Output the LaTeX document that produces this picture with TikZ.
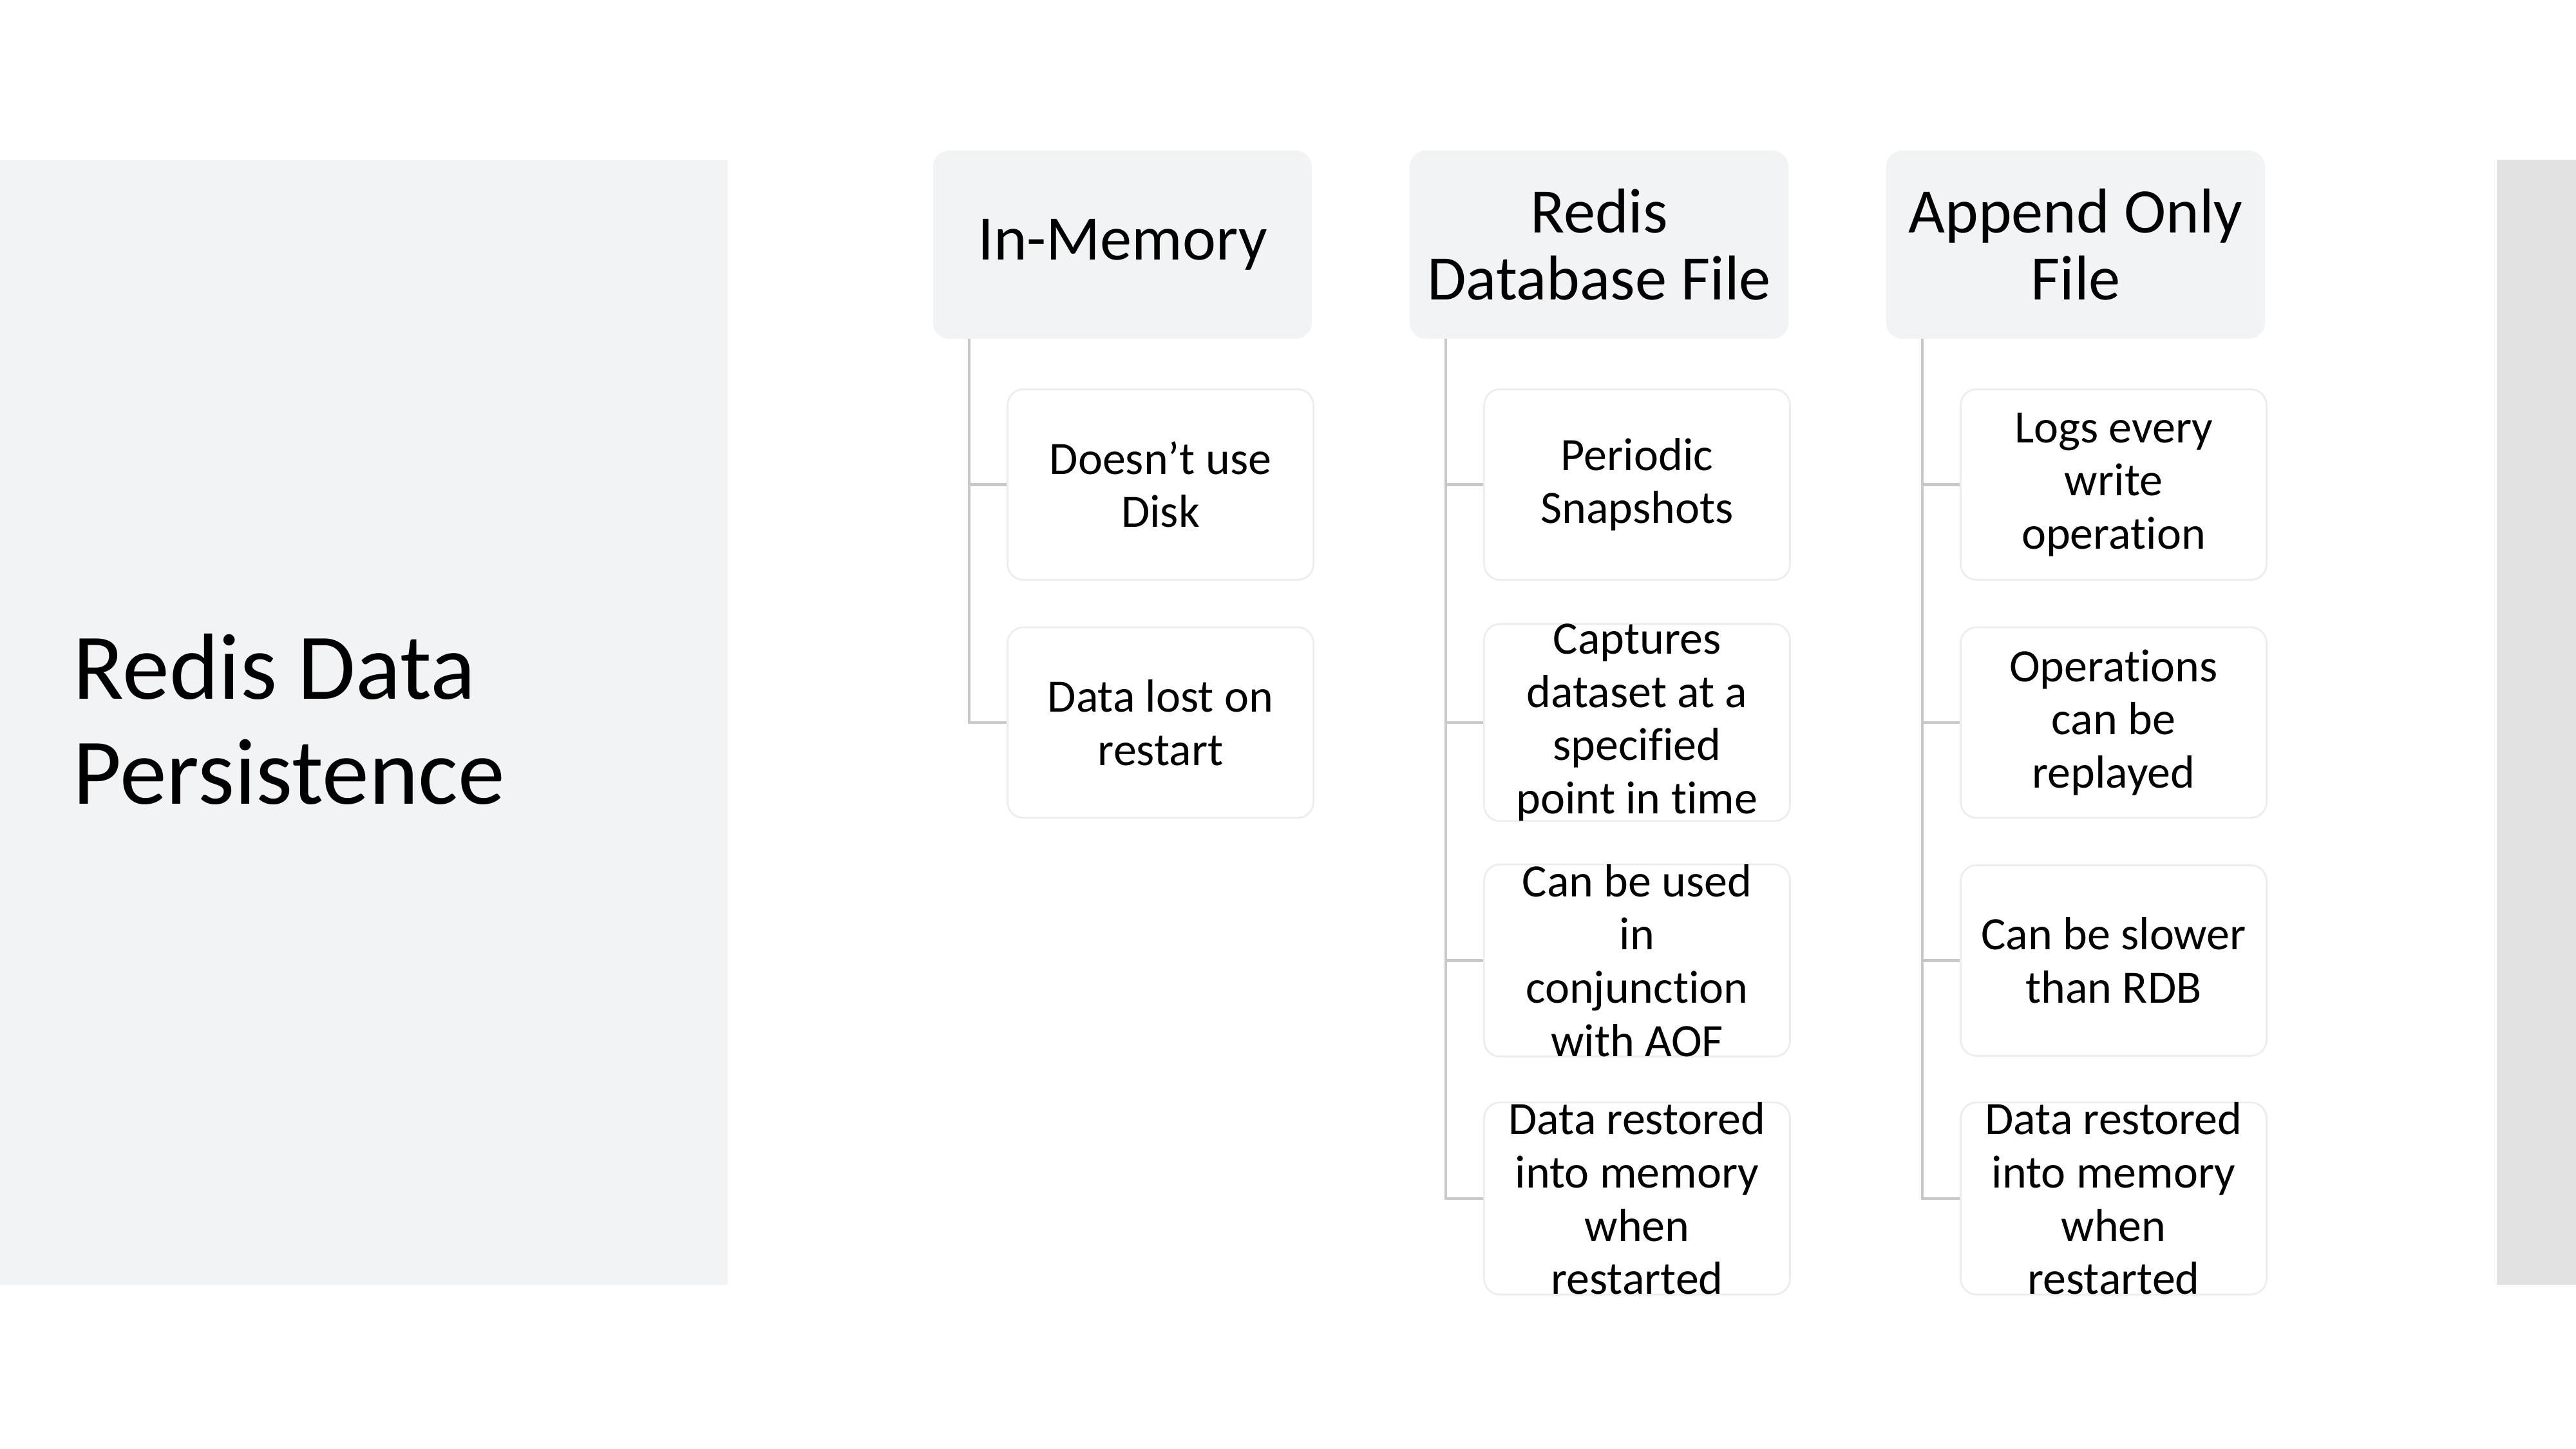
\documentclass[tikz,border=0pt]{standalone}
\usepackage{fontspec}
\setmainfont[Ligatures=NoCommon]{Carlito}
\usetikzlibrary{positioning}
\definecolor{panelgrey}{HTML}{F2F3F5}
\definecolor{bargrey}{HTML}{E2E2E2}
\definecolor{linegrey}{HTML}{C8C8C8}
\definecolor{boxedge}{HTML}{EDEDED}

\begin{document}
\begin{tikzpicture}[
    head/.style={fill=panelgrey,draw=panelgrey,rounded corners=7pt,minimum width=5.87cm,minimum height=2.91cm,
      align=center,inner sep=0pt,font=\fontsize{28}{29.5}\selectfont},
    item/.style={fill=white,draw=boxedge,line width=0.8pt,rounded corners=7pt,minimum width=4.75cm,minimum height=2.96cm,
      align=center,inner sep=0pt,font=\fontsize{20.5}{23.5}\selectfont},
    tree/.style={draw=linegrey,line width=1.2pt}]
    \useasboundingbox (0,0) rectangle (40,22.5);
    \fill[panelgrey] (0,2.55) rectangle (11.3,20.02);
    \fill[bargrey] (38.77,2.55) rectangle (40,20.02);
    \node[anchor=west,align=left,inner sep=0pt,font=\fontsize{41.5}{46.5}\selectfont] (title) at (1.13,11.33) {Redis Data\\Persistence};

    % column heads
    \node[head] (mem) at (17.43,18.7) {In-Memory};
    \node[head] (rdb) at ([shift=(0:7.4)] mem) {Redis\\Database File};
    \node[head] (aof) at ([shift=(0:7.4)] rdb) {Append Only\\File};

    % in-memory
    \node[item] (mem1) at ([shift={(0.59,-3.725)}] mem) {Doesn’t use\\Disk};
    \node[item] (mem2) at ([shift={(0,-3.695)}] mem1) {Data lost on\\restart};

    % rdb
    \node[item] (rdb1) at ([shift={(0.59,-3.725)}] rdb) {Periodic\\Snapshots};
    \node[item] (rdb2) at ([shift={(0,-3.695)}] rdb1) {Captures\\dataset at a\\specified\\point in time};
    \node[item] (rdb3) at ([shift={(0,-3.695)}] rdb2) {Can be used\\in\\conjunction\\with AOF};
    \node[item] (rdb4) at ([shift={(0,-3.695)}] rdb3) {Data restored\\into memory\\when\\restarted};

    % aof
    \node[item] (aof1) at ([shift={(0.59,-3.725)}] aof) {Logs every\\write\\operation};
    \node[item] (aof2) at ([shift={(0,-3.695)}] aof1) {Operations\\can be\\replayed};
    \node[item] (aof3) at ([shift={(0,-3.695)}] aof2) {Can be slower\\than RDB};
    \node[item] (aof4) at ([shift={(0,-3.695)}] aof3) {Data restored\\into memory\\when\\restarted};

    \foreach \p/\c in {mem/mem1,mem/mem2,rdb/rdb1,rdb/rdb2,rdb/rdb3,rdb/rdb4,aof/aof1,aof/aof2,aof/aof3,aof/aof4}{
      \draw[tree] ([xshift=0.56cm] \p.south west) |- (\c.west);
    }
\end{tikzpicture}
\end{document}
